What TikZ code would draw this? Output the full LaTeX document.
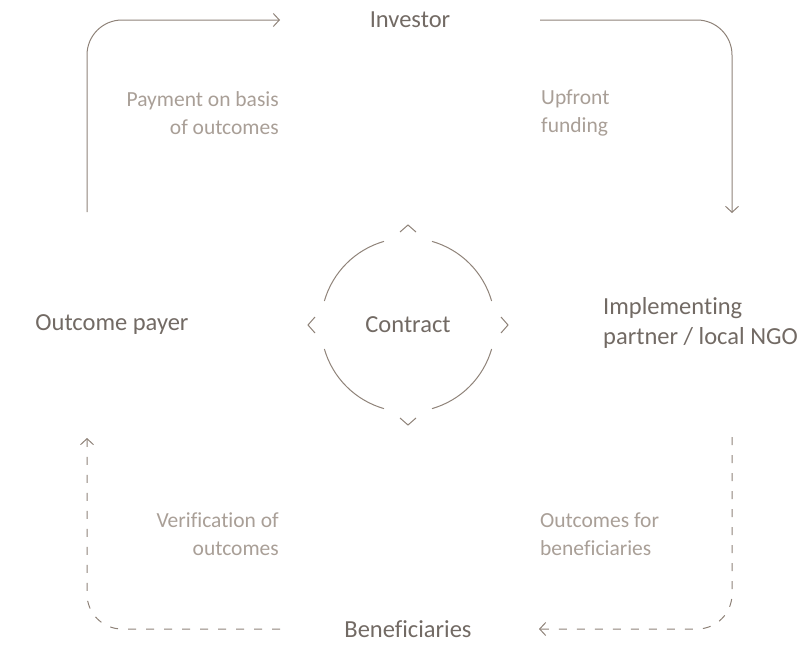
\documentclass[tikz,border=0pt]{standalone}
\usepackage{fontspec}
\setmainfont[Ligatures=NoCommon]{Carlito}
\usetikzlibrary{arrows.meta,calc}
\definecolor{textdark}{HTML}{726A64}
\definecolor{textlight}{HTML}{A99F97}
\definecolor{linecol}{HTML}{8F8379}
\begin{document}
\begin{tikzpicture}[x=1pt,y=-1pt,
  party/.style={text=textdark,font=\fontsize{24.5}{30}\selectfont,inner sep=0pt},
  flowlabel/.style={text=textlight,font=\fontsize{21.5}{28}\selectfont,inner sep=0pt},
  flow/.style={draw=linecol,line width=1pt,rounded corners=35pt,-{Straight Barb[length=6pt,width=13pt]}},
  ring/.style={draw=linecol,line width=1pt}]

  \useasboundingbox (0,0) rectangle (801,645);

  % parties
  \node[party] (investor) at (410,20) {Investor};
  \node[party] (payer) at (112,325) {Outcome payer};
  \node[party] (contract) at (408,325) {Contract};
  \node[party,anchor=west,align=left] (partner) at (603,323) {Implementing\\partner / local NGO};
  \node[party] (benef) at (408,629) {Beneficiaries};

  % flow labels
  \node[flowlabel,anchor=east,align=right] (payment) at (279,113) {Payment on basis\\of outcomes};
  \node[flowlabel,anchor=west,align=left] (upfront) at (541,113) {Upfront\\funding};
  \node[flowlabel,anchor=east,align=right] (verif) at (279,534) {Verification of\\outcomes};
  \node[flowlabel,anchor=west,align=left] (outc) at (540,534) {Outcomes for\\beneficiaries};

  % free ends
  \coordinate (payer top) at (87,212);
  \coordinate (payer bot) at (87,438);
  \coordinate (inv left) at (280,20);
  \coordinate (inv right) at (540,20);
  \coordinate (part top) at (732,213);
  \coordinate (part bot) at (732,437);
  \coordinate (ben left) at (280,629);
  \coordinate (ben right) at (539,629);

  \draw[flow] (payer top) |- (inv left);
  \draw[flow] (inv right) -| (part top);
  \draw[flow,dash pattern=on 8pt off 10pt] (part bot) |- (ben right);
  \draw[flow,dash pattern=on 8pt off 10pt] (ben left) -| (payer bot);

  % contract ring
  \foreach \a in {0,90,180,270}
  {\draw[ring] ($(contract.center)+(\a+16:87)$) arc[start angle=\a+16, end angle=\a+74, radius=87];
   \draw[ring,shift={(contract.center)},rotate=\a] (93,-8) -- (100,0) -- (93,8);}

\end{tikzpicture}
\end{document}
